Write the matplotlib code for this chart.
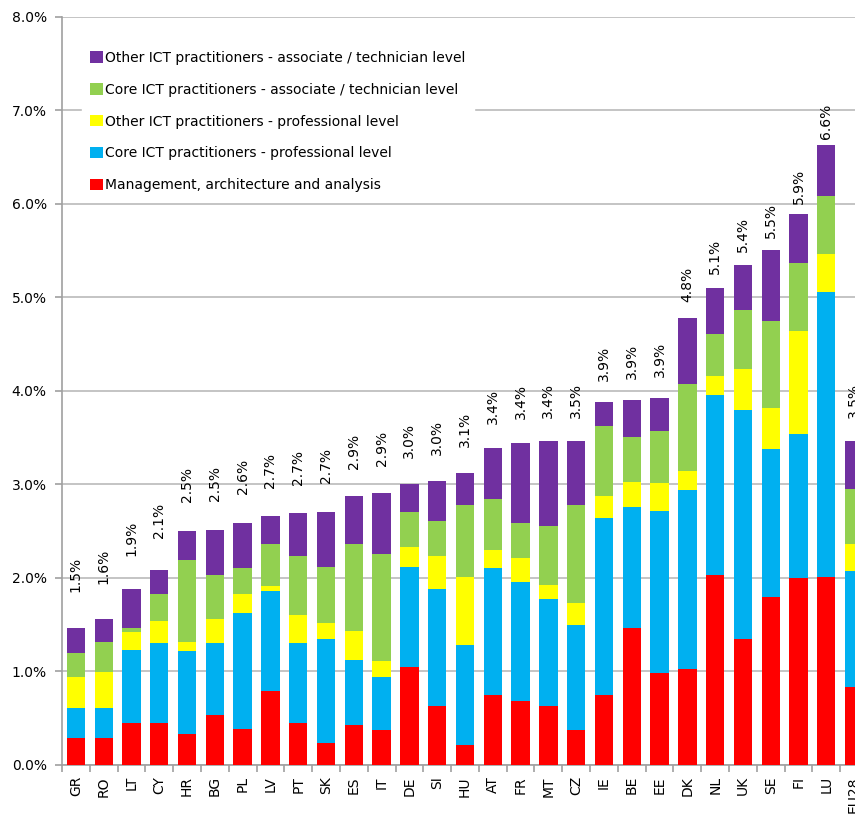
import numpy as np
import matplotlib
matplotlib.use("Agg")
from matplotlib import pyplot as plt
from matplotlib.ticker import FuncFormatter, MultipleLocator

countries = ["GR", "RO", "LT", "CY", "HR", "BG", "PL", "LV", "PT", "SK", "ES", "IT",
             "DE", "SI", "HU", "AT", "FR", "MT", "CZ", "IE", "BE", "EE", "DK", "NL",
             "UK", "SE", "FI", "LU", "EU28"]

# shares of total employment, %
management = [0.29, 0.29, 0.45, 0.45, 0.33, 0.54, 0.38, 0.79, 0.45, 0.23, 0.43, 0.37,
              1.05, 0.63, 0.21, 0.75, 0.68, 0.63, 0.37, 0.75, 1.47, 0.98, 1.03, 2.03,
              1.35, 1.80, 2.00, 2.01, 0.83]
core_prof = [0.32, 0.32, 0.78, 0.85, 0.89, 0.77, 1.25, 1.07, 0.86, 1.12, 0.69, 0.57,
             1.07, 1.25, 1.07, 1.36, 1.28, 1.14, 1.13, 1.89, 1.29, 1.74, 1.91, 1.93,
             2.45, 1.58, 1.54, 3.05, 1.25]
other_prof = [0.33, 0.38, 0.19, 0.24, 0.10, 0.25, 0.20, 0.05, 0.29, 0.17, 0.31, 0.17,
              0.21, 0.36, 0.73, 0.19, 0.25, 0.16, 0.23, 0.24, 0.27, 0.30, 0.20, 0.20,
              0.43, 0.44, 1.10, 0.41, 0.28]
core_assoc = [0.26, 0.325, 0.04, 0.29, 0.87, 0.47, 0.28, 0.45, 0.63, 0.60, 0.93, 1.15,
              0.38, 0.37, 0.77, 0.55, 0.38, 0.63, 1.05, 0.75, 0.48, 0.55, 0.94, 0.45,
              0.64, 0.93, 0.73, 0.61, 0.59]
other_assoc = [0.27, 0.25, 0.42, 0.26, 0.31, 0.48, 0.48, 0.30, 0.46, 0.59, 0.52, 0.65,
               0.29, 0.43, 0.34, 0.54, 0.85, 0.90, 0.68, 0.25, 0.39, 0.35, 0.70, 0.49,
               0.48, 0.76, 0.52, 0.55, 0.51]
total_labels = ["1.5%", "1.6%", "1.9%", "2.1%", "2.5%", "2.5%", "2.6%", "2.7%", "2.7%",
                "2.7%", "2.9%", "2.9%", "3.0%", "3.0%", "3.1%", "3.4%", "3.4%", "3.4%",
                "3.5%", "3.9%", "3.9%", "3.9%", "4.8%", "5.1%", "5.4%", "5.5%", "5.9%",
                "6.6%", "3.5%"]

series = [
    (management, "Management, architecture and analysis", "#FF0000"),
    (core_prof, "Core ICT practitioners - professional level", "#00B0F0"),
    (other_prof, "Other ICT practitioners - professional level", "#FFFF00"),
    (core_assoc, "Core ICT practitioners - associate / technician level", "#92D050"),
    (other_assoc, "Other ICT practitioners - associate / technician level", "#7030A0"),
]

fig = plt.figure(figsize=(8.55, 8.16), dpi=100)
ax = fig.add_axes([0.0725, 0.0625, 0.9427, 0.9167])

x = np.arange(len(countries))
bottom = np.zeros(len(countries))
handles = []
for vals, name, col in series:
    b = ax.bar(x, vals, 0.66, bottom=bottom, color=col, label=name, zorder=3)
    handles.append(b)
    bottom += np.array(vals)

# total labels sit a bit above each bar (Excel-like spacing)
for i, t in enumerate(bottom):
    ax.text(x[i], 0.939 * t + 0.466, total_labels[i], rotation=90, ha="center",
            va="bottom", fontsize=10, color="#000000")

ax.set_xlim(-0.5, len(countries) - 0.5)
ax.set_ylim(0, 8)
ax.yaxis.set_major_locator(MultipleLocator(1))
ax.yaxis.set_major_formatter(FuncFormatter(lambda v, p: "%.1f%%" % v))
ax.yaxis.grid(True, color="#BFBFBF", lw=1.3, zorder=0)
ax.set_axisbelow(True)

ax.set_xticks(x)
ax.set_xticklabels(countries, rotation=90, fontsize=10)
ax.tick_params(axis="x", length=0, pad=8)
ax.set_xticks(np.arange(len(countries) + 1) - 0.5, minor=True)
ax.tick_params(axis="x", which="minor", length=5, color="#A0A0A0", width=1.2)
ax.tick_params(axis="y", length=5, color="#A0A0A0", width=1.2, labelsize=10, pad=6)

for s in ["top", "right"]:
    ax.spines[s].set_visible(False)
for s in ["left", "bottom"]:
    ax.spines[s].set_color("#A0A0A0")
    ax.spines[s].set_linewidth(1.2)

leg = ax.legend(handles[::-1], [h.get_label() for h in handles[::-1]],
                loc="upper left", bbox_to_anchor=(0.016, 0.975), fontsize=10,
                frameon=True, fancybox=False, edgecolor="white", framealpha=1,
                handlelength=0.9, handleheight=0.9, handletextpad=0.2,
                labelspacing=1.28, borderpad=0.6)
leg.set_zorder(5)

fig.savefig("out.png", dpi=100)
